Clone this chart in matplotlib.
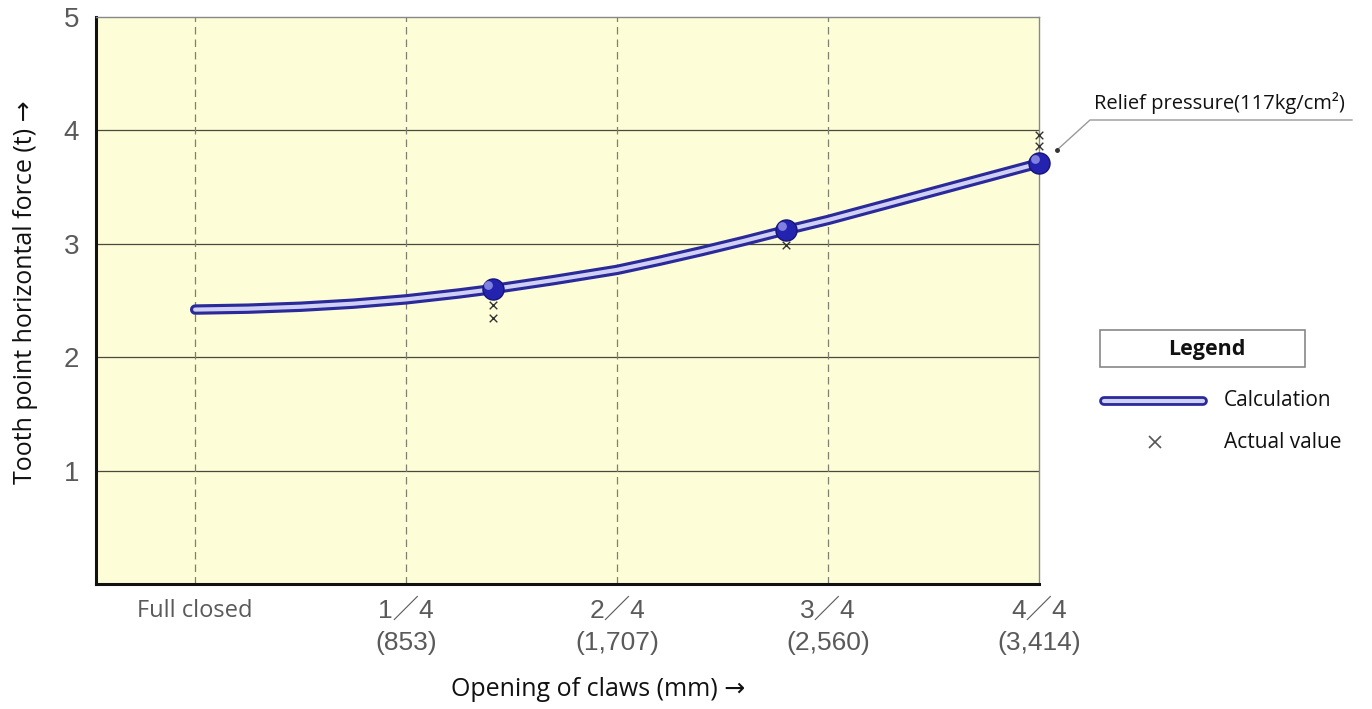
import matplotlib
matplotlib.use("Agg")
import matplotlib.pyplot as plt
from matplotlib.lines import Line2D

# ---- data ----
x_labels = ["Full closed", "1／4\n(853)", "2／4\n(1,707)", "3／4\n(2,560)", "4／4\n(3,414)"]
x_ticks = [0, 1, 2, 3, 4]
y_ticks = [1, 2, 3, 4, 5]

calc_x = [0.0, 0.25, 0.5, 0.75, 1.0, 1.25, 1.41, 1.7, 2.0, 2.2, 2.4, 2.6, 2.8, 3.0, 3.25, 3.5, 3.75, 4.0]
calc_y = [2.42, 2.428, 2.445, 2.472, 2.51, 2.562, 2.60, 2.68, 2.77, 2.85, 2.935, 3.025, 3.12, 3.21, 3.335, 3.46, 3.585, 3.71]
node_x = [1.41, 2.80, 4.0]
node_y = [2.60, 3.12, 3.71]
actual_x = [1.41, 1.41, 2.80, 4.0, 4.0]
actual_y = [2.46, 2.35, 2.99, 3.96, 3.86]

BG = "#fdfdd8"
DARK = "#2a2a9a"
LIGHT = "#d0d0f4"
GRAY = "#5a5a5a"
TICKFONT = ["Liberation Sans", "Noto Sans CJK JP"]
TXTFONT = ["Open Sans", "DejaVu Sans"]

fig = plt.figure(figsize=(13.72, 7.09), dpi=100)
ax = fig.add_axes([96/1372, 1-584/709, (1039-96)/1372, (584-17)/709])
ax.set_facecolor(BG)
ax.set_xlim(-0.47, 4.0)
ax.set_ylim(0, 5)

# grid
for yv in y_ticks[:-1]:
    ax.axhline(yv, color="#4a4a3a", lw=0.9, zorder=1)
for xv in x_ticks[:-1]:
    ax.axvline(xv, color="#808070", lw=0.9, ls=(0, (6, 4)), zorder=1)

# spines
for s in ["left", "bottom"]:
    ax.spines[s].set_linewidth(2.2)
    ax.spines[s].set_color("#111111")
for s in ["top", "right"]:
    ax.spines[s].set_linewidth(1.0)
    ax.spines[s].set_color("#888888")

# calculation curve (double line)
ax.plot(calc_x, calc_y, color=DARK, lw=7.5, solid_capstyle="round", solid_joinstyle="round", zorder=3)
ax.plot(calc_x, calc_y, color=LIGHT, lw=3.0, solid_capstyle="round", solid_joinstyle="round", zorder=4)
ax.scatter(node_x, node_y, s=230, color="#2323b0", edgecolor="#15157a", linewidth=1.0, zorder=5, clip_on=False)
ax.scatter([v - 0.02 for v in node_x], [v + 0.04 for v in node_y], s=40, color="#8080e0", zorder=6, clip_on=False, linewidth=0)

# actual values
ax.scatter(actual_x, actual_y, marker="x", s=30, color="#333333", linewidth=1.0, zorder=6, clip_on=False)

# ticks
ax.set_yticks(y_ticks)
ax.set_yticklabels([str(v) for v in y_ticks], fontsize=20, color=GRAY, family=TICKFONT)
ax.set_xticks(x_ticks)
ax.set_xticklabels([])
ax.tick_params(axis="both", length=0, pad=12)

for xv, lab in zip(x_ticks, x_labels):
    if xv == 0:
        ax.text(xv, -0.235, lab, ha="center", va="center", fontsize=17, color=GRAY,
                family=TXTFONT, clip_on=False)
    else:
        top, bot = lab.split("\n")
        ax.text(xv, -0.235, top, ha="center", va="center", fontsize=19, color=GRAY,
                family=TICKFONT, clip_on=False)
        ax.text(xv, -0.52, bot, ha="center", va="center", fontsize=19, color=GRAY,
                family=TICKFONT, clip_on=False)

fig.text(598/1372, 1-689/709, "Opening of claws (mm) →", ha="center", va="center",
         fontsize=18, family=TXTFONT, color="#111111")
fig.text(26/1372, 1-292/709, "Tooth point horizontal force (t) →", ha="center", va="center",
         rotation=90, fontsize=18, family=TXTFONT, color="#111111")

# annotation
fig.text(1094/1372, 1-103/709, "Relief pressure(117kg/cm²)", ha="left", va="center",
         fontsize=14.5, family=TXTFONT, color="#111111")
fig.add_artist(Line2D([1057/1372, 1090/1372, 1352/1372],
                      [1-150/709, 1-120/709, 1-120/709], color="#999999", lw=1.0))
fig.add_artist(Line2D([1057/1372], [1-150/709], marker="o", ms=2.5, color="#333333", lw=0))

# legend
fig.add_artist(plt.Rectangle((1100/1372, 1-367/709), 205/1372, 37/709, fill=False,
                             edgecolor="#888888", lw=1.2, transform=fig.transFigure))
fig.text(1207/1372, 1-349/709, "Legend", ha="center", va="center", fontsize=15.5,
         fontweight="bold", family=TXTFONT, color="#111111")
fig.add_artist(Line2D([1104/1372, 1203/1372], [1-401/709, 1-401/709], color=DARK, lw=7,
                      solid_capstyle="round"))
fig.add_artist(Line2D([1104/1372, 1203/1372], [1-401/709, 1-401/709], color=LIGHT, lw=3,
                      solid_capstyle="round"))
fig.text(1224/1372, 1-400/709, "Calculation", ha="left", va="center", fontsize=15,
         family=TXTFONT, color="#111111")
fig.add_artist(Line2D([1155/1372], [1-442/709], marker="x", ms=9, mew=1.2, color="#555555", lw=0))
fig.text(1224/1372, 1-442/709, "Actual value", ha="left", va="center", fontsize=15,
         family=TXTFONT, color="#111111")

fig.savefig("out.png", dpi=100, facecolor="white")
